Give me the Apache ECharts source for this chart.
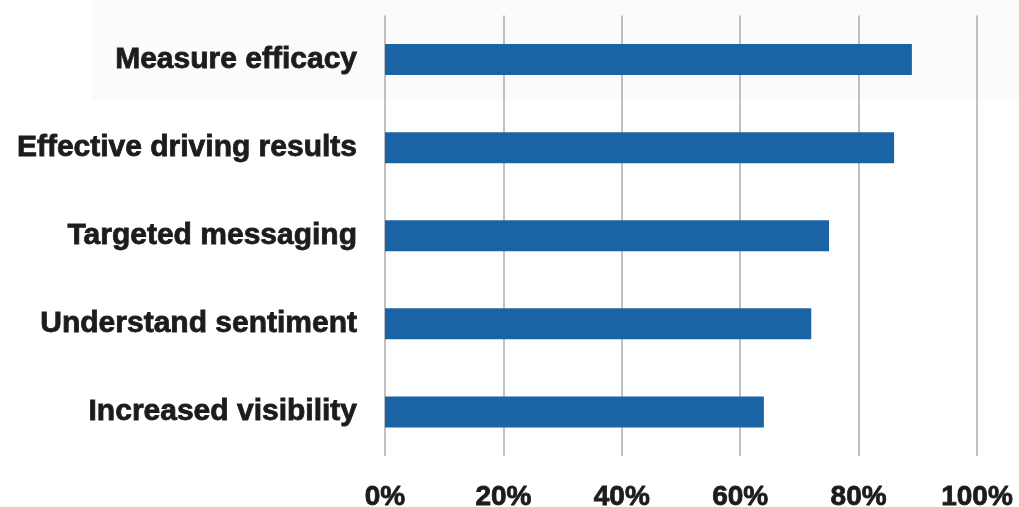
<!DOCTYPE html>
<html>
<head>
<meta charset="utf-8">
<style>
html,body{margin:0;padding:0;background:#ffffff;}
#chart{width:1019px;height:507px;}
</style>
<script src="https://cdn.jsdelivr.net/npm/echarts@6/dist/echarts.min.js"></script>
</head>
<body>
<div id="chart"></div>
<script>
var categories = ["Measure efficacy", "Effective driving results", "Targeted messaging", "Understand sentiment", "Increased visibility"];
var values = [89, 86, 75, 72, 64];
var tickLabels = ["0%", "20%", "40%", "60%", "80%", "100%"];

var chart = echarts.init(document.getElementById('chart'), null, {renderer: 'canvas'});
chart.setOption({
  animation: false,
  backgroundColor: '#ffffff',
  graphic: [{
    type: 'rect', z: -10, silent: true,
    shape: {x: 92, y: 0, width: 927, height: 100},
    style: {fill: '#fbfbfb'}
  }],
  grid: {left: 385, right: 42, top: 15.5, bottom: 51, containLabel: false, outerBoundsMode: 'none'},
  xAxis: {
    type: 'value', min: 0, max: 100, interval: 20,
    axisLine: {show: false}, axisTick: {show: false},
    splitLine: {show: true, lineStyle: {color: '#c0c0c0', width: 2}},
    axisLabel: {
      margin: 27,
      fontFamily: '"Liberation Sans", Arial, sans-serif', fontWeight: 'bold', fontSize: 28, color: '#1c1c1c',
      textBorderColor: '#1c1c1c', textBorderWidth: 0.8,
      formatter: function (v) { return tickLabels[Math.round(v / 20)]; }
    }
  },
  yAxis: {
    type: 'category', data: categories, inverse: true,
    axisLine: {show: false}, axisTick: {show: false}, splitLine: {show: false},
    axisLabel: {
      margin: 28,
      fontFamily: '"Liberation Sans", Arial, sans-serif', fontWeight: 'bold', fontSize: 30, color: '#1c1c1c',
      textBorderColor: '#1c1c1c', textBorderWidth: 0.8
    }
  },
  series: [{
    type: 'bar', data: values, barWidth: 31,
    itemStyle: {color: '#1a64a6'}
  }]
});
</script>
</body>
</html>
